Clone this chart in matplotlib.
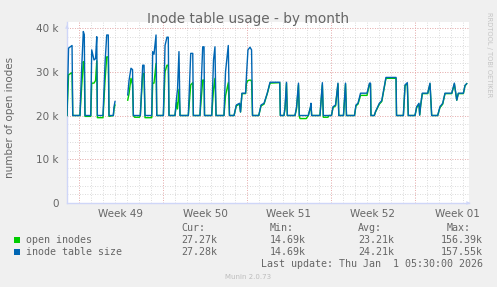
import matplotlib
matplotlib.use("Agg")
import matplotlib.pyplot as plt
from matplotlib.patches import Rectangle
import numpy as np

# time in days since 2025-11-30 00:00, values in thousands of inodes
days = [
    0.00, 0.13, 0.42, 0.48, 1.08, 1.21, 1.36, 1.44, 1.50, 1.98, 2.06, 2.25, 2.38, 2.48, 2.53,
    3.00, 3.17, 3.31, 3.44, 3.50, 3.86, 3.92, 4.00, 4.50,
    5.06, 5.17, 5.33, 5.46, 5.53, 5.63, 6.04, 6.11, 6.31, 6.42, 6.50,
    7.06, 7.14, 7.25, 7.42, 7.48, 8.03, 8.17, 8.33, 8.44, 8.50,
    9.00, 9.13, 9.21, 9.33, 9.42, 10.11, 10.31, 10.48, 10.53,
    11.08, 11.31, 11.42, 11.46, 12.06, 12.21, 12.33, 12.42,
    13.08, 13.21, 13.44, 13.54, 13.92, 14.11, 14.38, 14.46, 14.58, 14.88, 14.96,
    15.08, 15.25, 15.38, 15.46, 15.98, 16.17, 16.42, 16.69, 16.92, 17.73, 17.78,
    18.08, 18.17, 18.29, 18.36, 19.00, 19.13, 19.29, 19.36, 19.42, 19.94,
    20.11, 20.29, 20.33, 20.39, 21.08, 21.28, 21.36, 21.75, 21.83,
    22.04, 22.17, 22.38, 22.58, 22.65, 23.04, 23.21, 23.29,
    23.96, 24.08, 24.25, 24.46, 25.00, 25.21, 25.29, 25.33,
    25.61, 25.71, 26.03, 26.23, 26.58, 27.42, 27.46,
    28.03, 28.17, 28.36, 28.44, 29.00, 29.14, 29.33, 29.39, 29.48, 29.61,
    30.06, 30.25, 30.39, 30.89, 31.08, 31.31, 31.50, 32.06, 32.28, 32.48,
    32.61, 33.03, 33.17, 33.31,
]

table_size = [
    20.0, 35.4, 36.0, 20.0, 20.0, 30.0, 39.2, 38.5, 20.0, 20.0, 35.0, 32.7, 33.0, 38.0, 20.0,
    20.0, 32.0, 38.4, 38.4, 20.0, 20.0, 22.0, 23.2, np.nan,
    24.7, 28.0, 30.8, 30.5, 20.0, 20.0, 20.0, 20.0, 31.5, 31.5, 20.0,
    20.0, 34.6, 34.0, 38.4, 20.0, 20.0, 36.0, 37.9, 37.9, 20.0,
    20.0, 24.0, 26.0, 34.6, 20.0, 20.0, 34.2, 34.2, 20.0,
    20.0, 35.7, 35.7, 20.0, 20.0, 32.7, 35.7, 20.0,
    20.0, 30.0, 36.0, 20.0, 20.0, 22.4, 22.8, 20.8, 25.1, 25.1, 29.3,
    35.0, 35.6, 35.0, 20.0, 20.0, 22.4, 22.8, 25.1, 27.6, 27.6, 20.0,
    20.0, 22.0, 27.6, 20.0, 20.0, 22.0, 27.4, 20.0, 20.0, 20.0,
    20.0, 22.0, 22.8, 20.0, 20.0, 27.5, 20.0, 20.0, 20.0,
    20.0, 22.0, 22.4, 27.4, 20.0, 20.0, 27.4, 20.0,
    20.0, 22.4, 22.8, 25.1, 25.1, 27.4, 27.4, 20.0,
    20.0, 20.9, 22.8, 23.4, 28.7, 28.7, 20.0,
    20.0, 27.0, 27.5, 20.0, 20.0, 22.0, 22.8, 20.1, 22.6, 25.1,
    25.1, 27.4, 20.0, 20.0, 22.0, 22.8, 25.1, 25.1, 27.4, 23.5,
    25.1, 25.1, 26.9, 27.28,
]

open_inodes = [
    20.0, 29.3, 29.8, 20.0, 20.0, 26.0, 32.3, 31.0, 19.8, 19.8, 27.4, 27.4, 28.0, 32.5, 19.5,
    19.5, 28.0, 33.4, 33.4, 19.8, 20.0, 21.5, 22.4, np.nan,
    23.5, 25.0, 28.5, 27.0, 20.0, 19.6, 19.6, 20.0, 29.6, 29.6, 19.5,
    19.5, 27.4, 27.4, 31.9, 20.0, 20.0, 30.0, 31.5, 31.5, 20.0,
    20.0, 23.0, 21.5, 26.0, 20.0, 20.0, 27.0, 27.5, 20.0,
    20.0, 28.1, 28.1, 20.0, 20.0, 26.0, 28.5, 20.0,
    20.0, 24.5, 27.5, 20.0, 20.0, 22.2, 22.6, 20.8, 25.0, 25.0, 27.4,
    28.0, 28.1, 28.0, 20.0, 20.0, 22.2, 22.6, 25.0, 27.4, 27.5, 20.0,
    20.0, 21.5, 27.4, 20.0, 20.0, 21.5, 27.0, 19.8, 19.3, 19.3,
    20.0, 21.8, 22.4, 20.0, 20.0, 27.0, 19.6, 19.6, 20.0,
    20.0, 21.8, 22.2, 27.2, 20.0, 20.0, 27.2, 20.0,
    20.0, 22.2, 22.6, 24.6, 24.6, 27.2, 27.2, 20.0,
    20.0, 20.8, 22.6, 23.2, 28.5, 28.5, 20.0,
    20.0, 26.8, 27.3, 20.0, 20.0, 21.8, 22.6, 20.1, 22.4, 25.0,
    25.0, 27.2, 20.0, 20.0, 21.8, 22.6, 25.0, 25.0, 27.2, 23.5,
    25.0, 25.0, 26.8, 27.27,
]

week_starts = [1, 8, 15, 22, 29]
week_labels = ["Week 49", "Week 50", "Week 51", "Week 52", "Week 01"]
y_ticks = [0, 10, 20, 30, 40]
y_labels = ["0", "10 k", "20 k", "30 k", "40 k"]

series_names = ["open inodes", "inode table size"]
series_colors = ["#00CC00", "#0066B3"]
cur_vals = ["27.27k", "27.28k"]
min_vals = ["14.69k", "14.69k"]
avg_vals = ["23.21k", "24.21k"]
max_vals = ["156.39k", "157.55k"]

W, H = 497, 287
FONT = "#666666"
fig = plt.figure(figsize=(W / 100, H / 100), dpi=100, facecolor="#F0F0F0")

# canvas: x 67..469 px, y 22..203 px ; 12 px per day, 4.375 px per k
ax = fig.add_axes([67 / W, (H - 203) / H, 402 / W, 181 / H])
ax.set_facecolor("white")
ax.set_xlim(0, 402 / 12)
ax.set_ylim(0, 181 / 4.375)

for d in range(1, 34):
    ax.axvline(d, color="#CFCFCF", lw=0.6, ls=(0, (1, 2)), zorder=1)
for v in np.arange(2, 41, 2):
    ax.axhline(v, color="#CFCFCF", lw=0.6, ls=(0, (1, 2)), zorder=1)
for d in week_starts:
    ax.axvline(d, color="#F0A0A0", lw=0.6, ls=(0, (1, 2)), zorder=1.5)
for v in y_ticks[1:]:
    ax.axhline(v, color="#F0A0A0", lw=0.6, ls=(0, (1, 2)), zorder=1.5)

ax.plot(days, open_inodes, color=series_colors[0], lw=1.0, zorder=3)
ax.plot(days, table_size, color=series_colors[1], lw=1.0, zorder=4)

for s in ["top", "right"]:
    ax.spines[s].set_visible(False)
for s in ["left", "bottom"]:
    ax.spines[s].set_color("#CFD6F8")
    ax.spines[s].set_linewidth(1.0)

ax.set_yticks(y_ticks)
ax.set_yticklabels(y_labels)
ax.set_xticks([w + 3.5 for w in week_starts])
ax.set_xticklabels(week_labels)
ax.tick_params(axis="both", length=0, colors=FONT, labelsize=7.5)
ax.tick_params(axis="y", pad=6)
ax.tick_params(axis="x", pad=4)

# axis arrows
ax.annotate("", xy=(0, 1.0), xytext=(0, 0.96), xycoords="axes fraction",
            arrowprops=dict(arrowstyle="-|>", color="#CFD6F8", lw=0, mutation_scale=7))
ax.annotate("", xy=(1.01, 0), xytext=(0.99, 0), xycoords="axes fraction",
            arrowprops=dict(arrowstyle="-|>", color="#CFD6F8", lw=0, mutation_scale=7),
            annotation_clip=False)

fig.text(248 / W, 1 - 19 / H, "Inode table usage - by month", ha="center", va="center",
         fontsize=9.8, color=FONT)
fig.text(10 / W, 1 - 117 / H, "number of open inodes", rotation=90, ha="center",
         va="center", fontsize=7.5, color=FONT)
fig.text(489 / W, 1 - 55 / H, "RRDTOOL / TOBI OETIKER", rotation=270, ha="center",
         va="center", fontsize=4.8, color="#C4C4C4")

mono = "DejaVu Sans Mono"
row_y = [240, 252]
fig.text(181 / W, 1 - 228 / H, "Cur:", family=mono, fontsize=7.2, color=FONT, va="center")
fig.text(270 / W, 1 - 228 / H, "Min:", family=mono, fontsize=7.2, color=FONT, va="center")
fig.text(358 / W, 1 - 228 / H, "Avg:", family=mono, fontsize=7.2, color=FONT, va="center")
fig.text(447 / W, 1 - 228 / H, "Max:", family=mono, fontsize=7.2, color=FONT, va="center")
for i, name in enumerate(series_names):
    y = 1 - row_y[i] / H
    fig.add_artist(Rectangle((14 / W, y - 3 / H), 6 / W, 6 / H, transform=fig.transFigure,
                             facecolor=series_colors[i], edgecolor="none"))
    fig.text(26 / W, y, name, family=mono, fontsize=7.2, color=FONT, va="center")
    fig.text(181 / W, y, cur_vals[i], family=mono, fontsize=7.2, color=FONT, va="center")
    fig.text(270 / W, y, min_vals[i], family=mono, fontsize=7.2, color=FONT, va="center")
    fig.text(358 / W, y, avg_vals[i], family=mono, fontsize=7.2, color=FONT, va="center")
    fig.text(441 / W, y, max_vals[i], family=mono, fontsize=7.2, color=FONT, va="center")
fig.text(483 / W, 1 - 264 / H, "Last update: Thu Jan  1 05:30:00 2026", family=mono,
         fontsize=7.2, color=FONT, ha="right", va="center")
fig.text(248 / W, 1 - 277 / H, "Munin 2.0.73", ha="center", va="center", fontsize=5,
         color="#BDBDBD")

fig.savefig("out.png", dpi=100, facecolor=fig.get_facecolor())
